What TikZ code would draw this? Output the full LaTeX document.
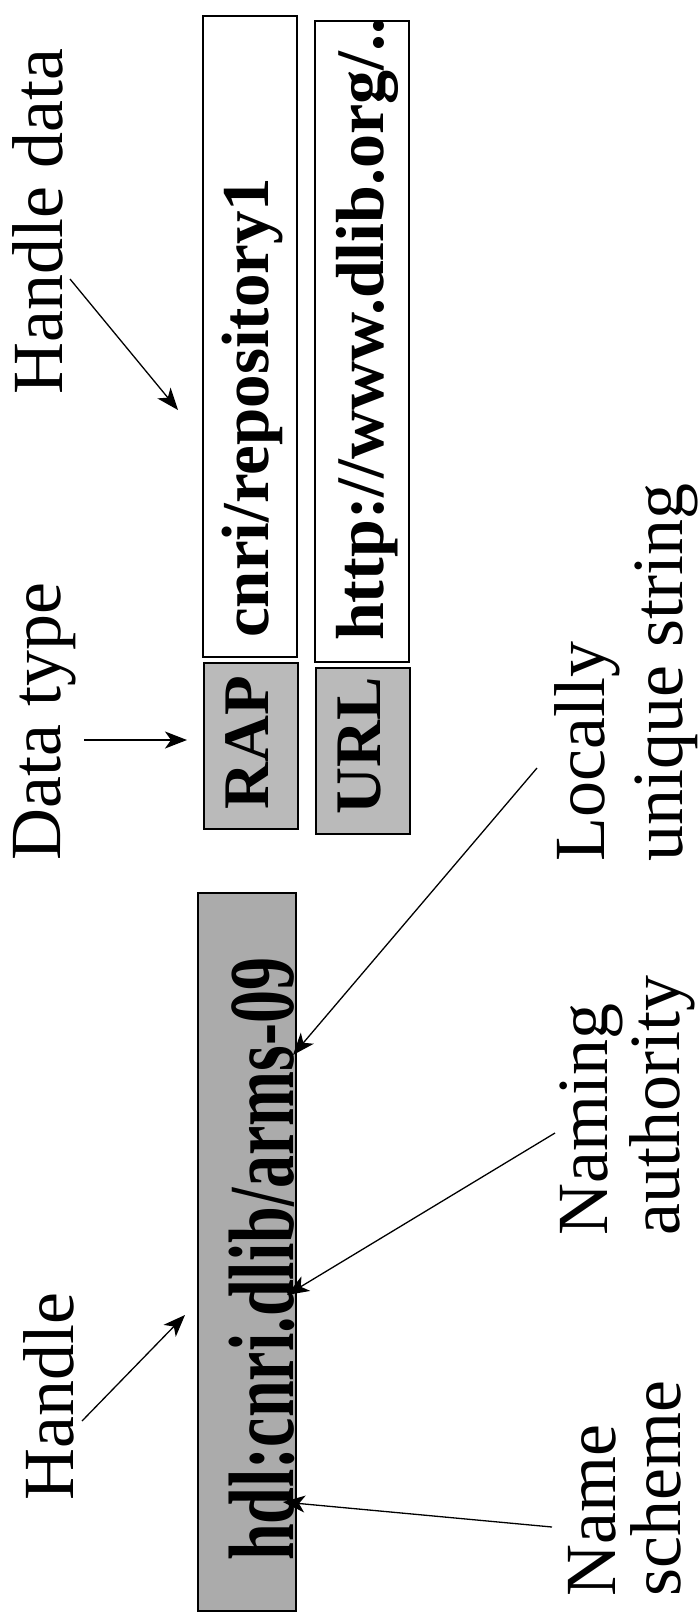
\documentclass[tikz,border=0pt]{standalone}
\usepackage{fontspec}
\usepackage{graphicx}
\setmainfont{Liberation Serif}
\usetikzlibrary{arrows.meta}
\begin{document}
\begin{tikzpicture}[x=1pt,y=-1pt,
  lbl/.style={rotate=90,anchor=base west,inner sep=0pt},
  lblfont/.style={font=\fontsize{72}{#1}\selectfont},
  val/.style={rotate=90,anchor=base west,inner sep=0pt,font=\bfseries\fontsize{67}{70}\selectfont},
  cell/.style={draw=black,line width=1.4pt,inner sep=0pt,minimum width=94pt},
  typecell/.style={cell,fill=black!27},
  datacell/.style={cell,fill=white},
  hdlcell/.style={cell,fill=black!33,minimum width=98pt},
  arr/.style={line width=1.3pt,-{Stealth[length=22pt,width=17pt,inset=6pt]}}
]
\useasboundingbox (0,0) rectangle (697,1614);

% boxes
\node[datacell,minimum height=641pt] (cnribox) at (250,336.5) {};
\node[typecell,minimum height=166pt] (rapbox) at (251,746) {};
\node[datacell,minimum height=641pt] (httpbox) at (362,341.5) {};
\node[typecell,minimum height=166pt] (urlbox) at (363,751) {};
\node[hdlcell,minimum height=718pt] (hdlbox) at (247,1252) {};

% box texts
\node[val] (cnri) at (268,638) {cnri/repository1};
\node[val,font=\bfseries\fontsize{68}{70}\selectfont] (http) at (383,641) {http://www.dlib.org/..};
\node[val,font=\bfseries\fontsize{65}{70}\selectfont] (rap) at (268,810) {RAP};
\node[val,font=\bfseries\fontsize{65}{70}\selectfont] (url) at (380,815) {URL};
\node[val,font=\bfseries\fontsize{93}{96}\selectfont] (hdl) at (293,1561) {\scalebox{0.71}[1]{hdl:cnri.dlib/arms-09}};

% labels
\node[lbl,lblfont=80] (lhdata) at (62,395) {Handle data};
\node[lbl,lblfont=80] (ldtype) at (60,861) {Data type};
\node[lbl,lblfont=80] (lhandle) at (73,1501) {Handle};
\node[lbl,lblfont=69] (lscheme) at (615,1597) {\begin{tabular}[t]{@{}l@{}}Name\\[-5pt]scheme\end{tabular}};
\node[lbl,lblfont=77] (lauth) at (607,1236) {\begin{tabular}[t]{@{}l@{}}Naming\\[-5pt]authority\end{tabular}};
\node[lbl,lblfont=83] (llocal) at (604,862) {\begin{tabular}[t]{@{}l@{}}Locally\\[-5pt]unique string\end{tabular}};

% connector ends
\coordinate (a1s) at (70,279);   \coordinate (a1e) at (178,410);
\coordinate (a2s) at (84,740);   \coordinate (a2e) at (187,740);
\coordinate (a3s) at (82,1421);  \coordinate (a3e) at (185,1315);
\coordinate (a4s) at (552,1527); \coordinate (a4e) at (283,1502);
\coordinate (a5s) at (555,1133); \coordinate (a5e) at (287,1295);
\coordinate (a6s) at (537,768);  \coordinate (a6e) at (293,1055);

\draw[arr] (a1s) -- (a1e);
\draw[arr] (a2s) -- (a2e);
\draw[arr] (a3s) -- (a3e);
\draw[arr] (a4s) -- (a4e);
\draw[arr] (a5s) -- (a5e);
\draw[arr] (a6s) -- (a6e);
\end{tikzpicture}
\end{document}
